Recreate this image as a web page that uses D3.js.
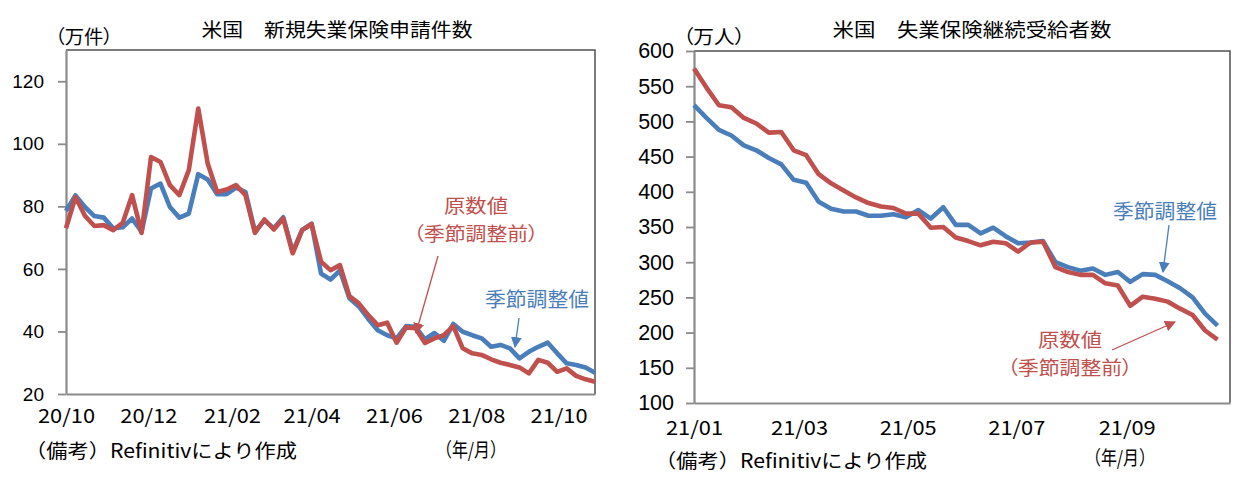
<!DOCTYPE html>
<html><head><meta charset="utf-8">
<script src="https://cdn.jsdelivr.net/npm/d3@7"></script>
<style>body{margin:0;background:#fff} svg{display:block} .palt{font-feature-settings:"palt"}</style>
</head><body><svg id="c" width="1246" height="484"></svg>
<script>
// ---- Left chart: initial jobless claims (10k) ----
const claimsStart = "2020-10-03";
const claimsEnd = "2021-10-30";
const claimsSA = [78.5,83.5,79.8,76.9,76.4,73,73.3,76.1,71.9,85.7,87.3,79.8,76.4,77.7,90.3,88.6,83.9,83.9,86,84.6,72,75.5,73,76.5,65.5,72.5,74.5,58.5,56.6,59.5,50.6,48,44,40.4,38.8,37.8,41.7,41.5,37.5,39.5,37,42.4,39.9,38.8,37.8,35.1,35.7,34.6,31.4,33.5,35.1,36.4,33,29.8,29.3,28.5,26.8];
const claimsNSA = [73,83,77,73.7,74,72.4,74.7,83.6,71.5,95.8,94.2,86.8,83.6,91.6,111.3,93.7,84.6,85.4,86.8,83.6,71.5,75.8,72.6,76.1,65,72.4,74.3,62.3,59.6,61.2,51.3,49,45.2,42,42.8,36.4,41.3,41,36.3,37.8,38.8,41.7,34.6,33,32.5,31.1,30,29.3,28.5,26.6,30.9,30,27.1,28.2,25.8,24.7,23.9];
const claimsXTicks = ["2020-10-03","2020-12-03","2021-02-03","2021-04-03","2021-06-03","2021-08-03","2021-10-03"];
const claimsYTicks = [20,40,60,80,100,120];

// ---- Right chart: continuing claims (10k persons) ----
const contStart = "2021-01-02";
const contEnd = "2021-10-30";
const contSA = [523,505,488,480,466,459,448,439,417,413,386,376,372,372,366,366,368,364,374,362,378,353,353,341,349,337,327,328,330,300,293,288,291,282,286,272,283,282,273,263,250,227,210];
const contNSA = [575,548,523,520,505,497,484,485,459,452,425,412,402,392,384,379,377,369,369,349,350,335,330,324,329,327,315,328,329,293,286,282,282,270,267,238,251,248,244,234,225,203,190];
const contXTicks = ["2021-01-02","2021-03-02","2021-05-02","2021-07-02","2021-09-02"];
const contYTicks = [100,150,200,250,300,350,400,450,500,550,600];

const BLUE = "#4a7ebb", RED = "#c0504d";
const JP = "'Noto Sans CJK JP', sans-serif";
const NUM = "'Liberation Sans', Arial, sans-serif";
const parse = d3.utcParse("%Y-%m-%d");
const svg = d3.select("#c");

const defs = svg.append("defs");
[["arrRed", RED], ["arrBlue", BLUE]].forEach(([id, col]) => {
  defs.append("marker").attr("id", id).attr("viewBox", "0 0 10 10")
    .attr("refX", 9).attr("refY", 5).attr("markerWidth", 11).attr("markerHeight", 11)
    .attr("markerUnits", "userSpaceOnUse").attr("orient", "auto")
    .append("path").attr("d", "M0,0 L10,5 L0,10 z").attr("fill", col);
});

function drawChart(cfg) {
  const g = svg.append("g");
  const dates = cfg.sa.map((_, i) => d3.utcDay.offset(parse(cfg.start), 7 * i));
  const x = d3.scaleUtc().domain([parse(cfg.start), parse(cfg.end)]).range([cfg.x0, cfg.x1]);
  const y = d3.scaleLinear().domain(cfg.yDomain).range([cfg.y1, cfg.y0]);

  g.append("path").attr("d", `M${cfg.x0},${cfg.y0}H${cfg.x1}V${cfg.y1}`)
    .attr("fill", "none").attr("stroke", "#505050").attr("stroke-width", 1.5);

  const ya = g.append("g").attr("transform", `translate(${cfg.x0},0)`)
    .call(d3.axisLeft(y).tickValues(cfg.yTicks).tickSize(8).tickSizeOuter(0).tickPadding(cfg.yPad));
  ya.select(".domain").attr("stroke", "#8a8a8a").attr("stroke-width", 2.2);
  ya.selectAll(".tick line").attr("stroke", "#8a8a8a").attr("stroke-width", 1.8);
  ya.selectAll(".tick text").attr("font-family", NUM).attr("font-size", cfg.yFont).attr("fill", "#000");

  const xa = g.append("g").attr("transform", `translate(0,${cfg.y1})`)
    .call(d3.axisBottom(x).tickValues(cfg.xTicks.map(parse)).tickSize(0).tickSizeOuter(0)
      .tickPadding(cfg.xPad).tickFormat(d3.utcFormat("%y/%m")));
  xa.select(".domain").attr("stroke", "#8a8a8a").attr("stroke-width", 2.2);
  xa.selectAll(".tick text").attr("font-family", JP).attr("font-size", 19.5).attr("fill", "#000")
    .attr("textLength", 57).attr("lengthAdjust", "spacingAndGlyphs");

  const line = d3.line().x((d, i) => x(dates[i])).y(d => y(d));
  g.append("path").datum(cfg.sa).attr("d", line).attr("fill", "none")
    .attr("stroke", BLUE).attr("stroke-width", 4.6).attr("stroke-linejoin", "round");
  g.append("path").datum(cfg.nsa).attr("d", line).attr("fill", "none")
    .attr("stroke", RED).attr("stroke-width", 4.6).attr("stroke-linejoin", "round");

  const txt = (s, cx, cy, size, col, len, anchor = "middle", palt = false) => {
    const t = g.append("text").attr("x", cx).attr("y", cy).attr("dy", "0.35em")
      .attr("text-anchor", anchor).attr("font-family", JP).attr("font-size", size)
      .attr("fill", col).text(s);
    if (palt) t.attr("class", "palt");
    if (len) t.attr("textLength", len).attr("lengthAdjust", "spacingAndGlyphs");
    return t;
  };
  txt(cfg.title, cfg.titleX, 30, 19, "#000", cfg.titleLen);
  txt(cfg.unit, cfg.unitX, 37, 19, "#000", cfg.unitLen, "start", true);
  txt("（備考）Refinitivにより作成", cfg.noteX, cfg.noteY, 19.5, "#000", 272, "start");
  txt("（年/月）", cfg.ymX, cfg.ymY, 19.5, "#000", 70, "start");

  txt("原数値", cfg.nsaLab[0], cfg.nsaLab[1] - 1, 19, RED, 64);
  txt("（季節調整前）", cfg.nsaLab[0], cfg.nsaLab[1] + 27, 19, RED, 125, "middle", true);
  txt("季節調整値", cfg.saLab[0], cfg.saLab[1], 20.5, BLUE, 104);
  g.append("line").attr("x1", cfg.nsaArrow[0]).attr("y1", cfg.nsaArrow[1])
    .attr("x2", cfg.nsaArrow[2]).attr("y2", cfg.nsaArrow[3])
    .attr("stroke", RED).attr("stroke-width", 1.3).attr("marker-end", "url(#arrRed)");
  g.append("line").attr("x1", cfg.saArrow[0]).attr("y1", cfg.saArrow[1])
    .attr("x2", cfg.saArrow[2]).attr("y2", cfg.saArrow[3])
    .attr("stroke", BLUE).attr("stroke-width", 1.3).attr("marker-end", "url(#arrBlue)");
}

drawChart({
  start: claimsStart, end: claimsEnd, sa: claimsSA, nsa: claimsNSA,
  xTicks: claimsXTicks, yTicks: claimsYTicks, yDomain: [20, 130],
  x0: 66, x1: 595, y0: 50, y1: 394, yPad: 14, yFont: 19, xPad: 15,
  title: "米国　新規失業保険申請件数", titleX: 337, titleLen: 271,
  unit: "（万件）", unitX: 55, unitLen: 58,
  noteX: 25, noteY: 451, ymX: 436, ymY: 450,
  nsaLab: [476, 207], saLab: [537, 300],
  nsaArrow: [438, 256, 416, 333], saArrow: [519, 318, 515, 347]
});
drawChart({
  start: contStart, end: contEnd, sa: contSA, nsa: contNSA,
  xTicks: contXTicks, yTicks: contYTicks, yDomain: [100, 600],
  x0: 694, x1: 1230, y0: 51, y1: 403, yPad: 12, yFont: 21.5, xPad: 18,
  title: "米国　失業保険継続受給者数", titleX: 972, titleLen: 279,
  unit: "（万人）", unitX: 683, unitLen: 62,
  noteX: 655, noteY: 461, ymX: 1085, ymY: 458,
  nsaLab: [1070, 341], saLab: [1165, 212],
  nsaArrow: [1112, 350, 1175, 322], saArrow: [1169, 225, 1163, 272]
});
</script></body></html>
